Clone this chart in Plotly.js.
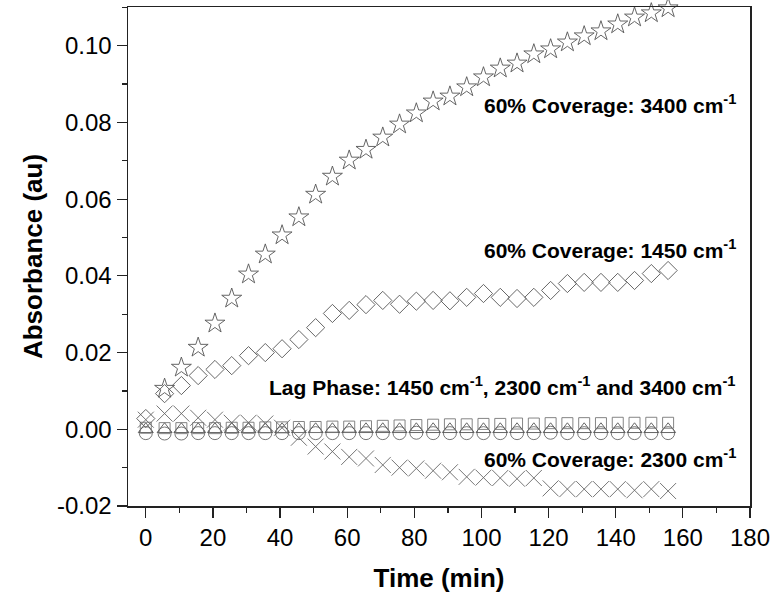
<!DOCTYPE html>
<html>
<head>
<meta charset="utf-8">
<script src="https://cdn.plot.ly/plotly-3.0.1.min.js"></script>
<style>html,body{margin:0;padding:0;background:#fff;}#chart{width:778px;height:603px;}</style>
</head>
<body>
<div id="chart"></div>
<script>
// Time (min)
const timeAll = [0, 5.6, 10.6, 15.6, 20.6, 25.6, 30.6, 35.6, 40.6, 45.6, 50.6, 55.6, 60.6, 65.6, 70.6, 75.6, 80.6, 85.6, 90.6, 95.6, 100.6, 105.6, 110.6, 115.6, 120.6, 125.6, 130.6, 135.6, 140.6, 145.6, 150.6, 155.6];
const timeStar = [5.6, 10.6, 15.6, 20.6, 25.6, 30.6, 35.6, 40.6, 45.6, 50.6, 55.6, 60.6, 65.6, 70.6, 75.6, 80.6, 85.6, 90.6, 95.6, 100.6, 105.6, 110.6, 115.6, 120.6, 125.6, 130.6, 135.6, 140.6, 145.6, 150.6, 155.6];

// 60% coverage
const cov3400 = [0.0106, 0.0161, 0.0213, 0.0276, 0.0341, 0.0404, 0.0456, 0.0506, 0.0553, 0.0612, 0.0659, 0.0701, 0.0729, 0.0761, 0.0795, 0.0824, 0.0855, 0.0868, 0.0892, 0.0918, 0.0941, 0.0954, 0.0978, 0.0991, 0.1009, 0.1025, 0.1038, 0.1056, 0.1074, 0.1085, 0.1098];
const cov1450 = [0.0028, 0.0093, 0.0114, 0.0140, 0.0156, 0.0166, 0.0192, 0.0200, 0.0210, 0.0234, 0.0265, 0.0302, 0.0310, 0.0325, 0.0336, 0.0326, 0.0334, 0.0336, 0.0335, 0.0344, 0.0354, 0.0344, 0.0341, 0.0344, 0.0362, 0.0380, 0.0383, 0.0383, 0.0383, 0.0388, 0.0406, 0.0414];
const cov2300 = [0.0025, 0.0041, 0.0041, 0.0030, 0.0025, 0.0017, 0.0017, 0.0015, 0.0004, -0.0022, -0.0045, -0.0058, -0.0072, -0.0076, -0.0093, -0.0100, -0.0102, -0.0108, -0.0112, -0.0124, -0.0126, -0.0127, -0.0129, -0.0127, -0.0154, -0.0156, -0.0156, -0.0156, -0.0156, -0.0159, -0.0156, -0.0161];

// Lag phase
const lag1450 = [0.0004, 0.0003, 0.0003, 0.0003, 0.0003, 0.0004, 0.0004, 0.0005, 0.0005, 0.0006, 0.0006, 0.0007, 0.0007, 0.0008, 0.0009, 0.0010, 0.0011, 0.0012, 0.0013, 0.0013, 0.0014, 0.0014, 0.0015, 0.0015, 0.0016, 0.0016, 0.0016, 0.0016, 0.0017, 0.0017, 0.0017, 0.0017];
const lag2300 = [0.0000, 0.0000, 0.0000, 0.0000, 0.0000, 0.0000, 0.0000, 0.0000, 0.0000, 0.0000, 0.0000, 0.0000, 0.0000, 0.0000, 0.0000, 0.0000, 0.0000, 0.0000, 0.0000, 0.0000, 0.0000, 0.0000, 0.0000, 0.0000, 0.0000, 0.0000, 0.0000, 0.0000, 0.0000, 0.0000, 0.0000, 0.0000];
const lag3400 = [-0.0010, -0.0011, -0.0011, -0.0010, -0.0010, -0.0010, -0.0010, -0.0010, -0.0010, -0.0010, -0.0010, -0.0010, -0.0010, -0.0010, -0.0010, -0.0010, -0.0009, -0.0010, -0.0010, -0.0010, -0.0010, -0.0010, -0.0010, -0.0010, -0.0009, -0.0010, -0.0010, -0.0010, -0.0010, -0.0010, -0.0010, -0.0010];

const xTicks = [0, 20, 40, 60, 80, 100, 120, 140, 160, 180];
const yTickVals = [-0.02, 0.00, 0.02, 0.04, 0.06, 0.08, 0.10];
const yTickText = ['-0.02', '0.00', '0.02', '0.04', '0.06', '0.08', '0.10'];

const labels = [
  {text: '60% Coverage: 3400 cm<sup>-1</sup>', x: 176.5, y: 0.0849},
  {text: '60% Coverage: 1450 cm<sup>-1</sup>', x: 176.5, y: 0.0471},
  {text: 'Lag Phase: 1450 cm<sup>-1</sup>, 2300 cm<sup>-1</sup> and 3400 cm<sup>-1</sup>', x: 176.0, y: 0.0112},
  {text: '60% Coverage: 2300 cm<sup>-1</sup>', x: 176.5, y: -0.0076}
];

function mk(x, y, symbol, size, color) {
  return {
    x: x, y: y, type: 'scatter', mode: 'markers', showlegend: false, cliponaxis: false,
    marker: {symbol: symbol, size: size, color: color, line: {color: color, width: 0.9}}
  };
}

const traces = [
  mk(timeAll, lag3400, 'circle-open', 13, '#666666'),
  mk(timeAll, lag2300, 'triangle-up-open', 13, '#555555'),
  mk(timeAll, lag1450, 'square-open', 11, '#777777'),
  mk(timeAll, cov2300, 'x-thin-open', 16, '#666666'),
  mk(timeAll, cov1450, 'diamond-open', 14, '#555555'),
  mk(timeStar, cov3400, 'star-open', 15, '#555555')
];

const font = 'Liberation Sans, Arial, sans-serif';
const layout = {
  width: 778, height: 603,
  margin: {l: 128, r: 28, t: 7, b: 97},
  paper_bgcolor: '#ffffff', plot_bgcolor: '#ffffff',
  font: {family: font, color: '#000'},
  xaxis: {
    range: [-5.3, 180], tickvals: xTicks, ticktext: xTicks.map(String),
    ticks: 'outside', ticklen: 10, tickwidth: 1.2, tickcolor: '#222',
    showline: true, linecolor: '#222', linewidth: 1.5, mirror: true,
    showgrid: false, zeroline: false,
    tickfont: {family: font, size: 24, color: '#000'},
    minor: {dtick: 10, tick0: 0, ticks: 'outside', ticklen: 5, tickwidth: 1.2, tickcolor: '#222', showgrid: false},
    title: {text: '<b>Time (min)</b>', font: {family: font, size: 26, color: '#000'}, standoff: 18}
  },
  yaxis: {
    range: [-0.02, 0.1101], tickvals: yTickVals, ticktext: yTickText,
    ticks: 'outside', ticklen: 10, tickwidth: 1.2, tickcolor: '#222',
    showline: true, linecolor: '#222', linewidth: 1.5, mirror: true,
    showgrid: false, zeroline: false,
    tickfont: {family: font, size: 24, color: '#000'},
    minor: {dtick: 0.01, tick0: 0, ticks: 'outside', ticklen: 5, tickwidth: 1.2, tickcolor: '#222', showgrid: false},
    title: {text: '<b>Absorbance (au)</b>', font: {family: font, size: 26, color: '#000'}, standoff: 7}
  },
  annotations: labels.map(l => ({
    text: '<b>' + l.text + '</b>', x: l.x, y: l.y, xref: 'x', yref: 'y',
    xanchor: 'right', yanchor: 'middle', showarrow: false,
    font: {family: font, size: 21, color: '#000'}
  }))
};

Plotly.newPlot('chart', traces, layout, {staticPlot: true, displayModeBar: false});
</script>
</body>
</html>
